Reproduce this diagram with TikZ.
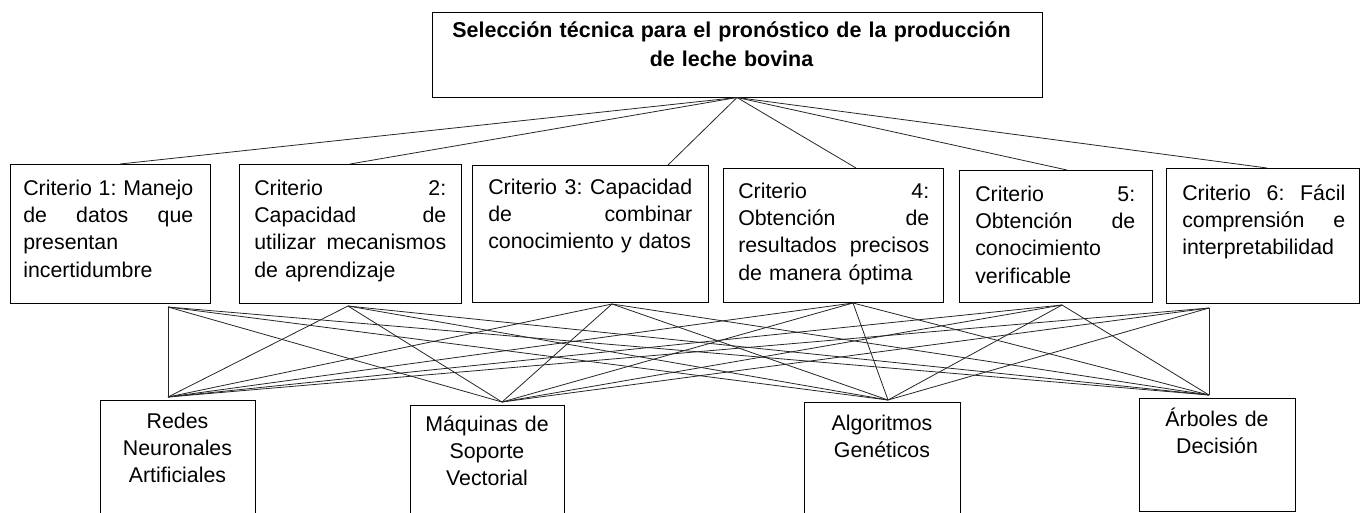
\documentclass[tikz,border=0pt]{standalone}
\usepackage{fontspec}
\setmainfont{Liberation Sans}
\usetikzlibrary{fit}
\newcommand\jl[2]{\makebox[#1][s]{\spaceskip=0pt\xspaceskip=0pt\relax #2}\\}
\frenchspacing
\begin{document}
\begin{tikzpicture}[x=0.75pt,y=-0.75pt,
  box/.style={draw=black, line width=0.75pt, inner sep=0pt},
  crit/.style={anchor=base west, inner sep=0pt, align=left, font=\frenchspacing\fontsize{16}{20.5}\selectfont},
  alt/.style={anchor=base, inner sep=0pt, align=center, text width=150pt, font=\fontsize{16}{20.3}\selectfont},
  title/.style={anchor=base, inner sep=0pt, align=center, text width=440pt, font=\bfseries\fontsize{16.1}{21.75}\selectfont},
  link/.style={draw=black!85, line width=0.6pt}]
\useasboundingbox (0,0) rectangle (1365,512);

% boxes
\node[box, fit={(432,12)(1042,97)}] (top) {};
\node[box, fit={(10,164)(210,303)}] (c1) {};
\node[box, fit={(239,164)(461,303)}] (c2) {};
\node[box, fit={(472,165)(708,302)}] (c3) {};
\node[box, fit={(723,168)(943,302)}] (c4) {};
\node[box, fit={(959,170)(1152,302)}] (c5) {};
\node[box, fit={(1166,168)(1359,303)}] (c6) {};
\node[box, fit={(100,400)(255,522)}] (a1) {};
\node[box, fit={(410,405)(564,522)}] (a2) {};
\node[box, fit={(804,402)(960,522)}] (a3) {};
\node[box, fit={(1139,398)(1295,511)}] (a4) {};

% texts
\node[title] (toptext) at (731.5,37.3) {Selección técnica para el pronóstico de la producción\\de leche bovina};
\node[crit, text width=127.5pt] (c1t) at (23,195) {\jl{127.5pt}{Criterio 1: Manejo}\jl{127.5pt}{de datos que}presentan\\incertidumbre};
\node[crit, text width=144pt] (c2t) at (254,195) {\jl{144pt}{Criterio 2:}\jl{144pt}{Capacidad de}\jl{144pt}{utilizar mecanismos}de aprendizaje};
\node[crit, text width=153pt] (c3t) at (488,194) {\jl{153pt}{Criterio 3: Capacidad}\jl{153pt}{de combinar}conocimiento y datos};
\node[crit, text width=143.25pt] (c4t) at (738,198) {\jl{143.25pt}{Criterio 4:}\jl{143.25pt}{Obtención de}\jl{143.25pt}{resultados precisos}de manera óptima};
\node[crit, text width=120pt] (c5t) at (975,201) {\jl{120pt}{Criterio 5:}\jl{120pt}{Obtención de}conocimiento\\verificable};
\node[crit, text width=122.25pt] (c6t) at (1182,200) {\jl{122.25pt}{Criterio 6: Fácil}\jl{122.25pt}{comprensión e}interpretabilidad};
\node[alt] (a1t) at (177.5,428) {Redes\\Neuronales\\Artificiales};
\node[alt] (a2t) at (487,431) {Máquinas de\\Soporte\\Vectorial};
\node[alt] (a3t) at (882,430) {Algoritmos\\Genéticos};
\node[alt] (a4t) at (1217,426) {Árboles de\\Decisión};

% connection points
\coordinate (t1) at (120,164);
\coordinate (t2) at (350,164);
\coordinate (t3) at (668,165);
\coordinate (t4) at (856,168);
\coordinate (t5) at (1067,170);
\coordinate (t6) at (1267,168);
\coordinate (b1) at (168,307);
\coordinate (b2) at (348,306);
\coordinate (b3) at (612,304);
\coordinate (b4) at (853,303);
\coordinate (b5) at (1062,305);
\coordinate (b6) at (1209,308);
\coordinate (r1) at (168,397);
\coordinate (r2) at (502,402);
\coordinate (r3) at (888,400);
\coordinate (r4) at (1209,395);

\foreach \t in {t1,t2,t3,t4,t5,t6} \draw[link] (top.south) -- (\t);
\foreach \b in {b1,b2,b3,b4,b5,b6}
  \foreach \r in {r1,r2,r3,r4} \draw[link] (\b) -- (\r);
\end{tikzpicture}
\end{document}
